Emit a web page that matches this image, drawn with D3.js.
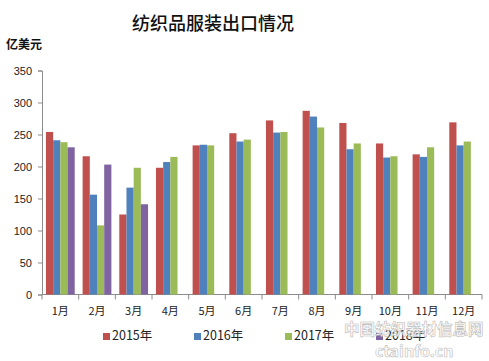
<!DOCTYPE html>
<html lang="zh">
<head>
<meta charset="UTF-8">
<title>纺织品服装出口情况</title>
<script src="https://d3js.org/d3.v7.min.js"></script>
<style>
  body { margin: 0; background: #fff; }
  svg { display: block; font-family: "Noto Sans CJK SC", "DejaVu Sans", sans-serif; }
  .axis path, .axis line { stroke: #8c8c8c; }
  .axis text { fill: #222; font-size: 11px; }
</style>
</head>
<body>
<svg id="chart" width="489" height="361"></svg>
<script>
// months and yearly export values (亿美元)
let months = ["1月","2月","3月","4月","5月","6月","7月","8月","9月","10月","11月","12月"];
let years = ["2015年","2016年","2017年","2018年"];
let v2015 = [254, 216, 125, 198, 233, 252, 272, 287, 268, 236, 219, 269];
let v2016 = [241, 156, 167, 207, 234, 239, 253, 278, 227, 214, 215, 233];
let v2017 = [238, 108, 198, 215, 233, 242, 254, 261, 236, 216, 230, 239];
let v2018 = [230, 203, 141];
let yTicks = [0, 50, 100, 150, 200, 250, 300, 350];
let colors = ["#C0504D", "#4F81BD", "#9BBB59", "#8064A2"];

let series = [v2015, v2016, v2017, v2018];
let svg = d3.select("#chart");

let x = d3.scaleBand().domain(months).range([42, 482]);
let sub = d3.scaleBand().domain(years).range([0, x.bandwidth()]).paddingOuter(0.55);
let y = d3.scaleLinear().domain([0, 350]).range([294.5, 70.5]);

// title
svg.append("text").attr("x", 213).attr("y", 30).attr("text-anchor", "middle")
  .attr("font-size", 18).attr("font-weight", 500).attr("fill", "#111").text("纺织品服装出口情况");
svg.append("text").attr("x", 6).attr("y", 49).attr("font-size", 12)
  .attr("font-weight", "bold").attr("fill", "#111").text("亿美元");

// y axis
let yAxis = svg.append("g").attr("class", "axis").attr("transform", "translate(42,0)")
  .call(d3.axisLeft(y).tickValues(yTicks).tickSize(4).tickPadding(6));
yAxis.selectAll("text").attr("fill", "#1f2a44");

// x axis, ticks on band boundaries
let xAxis = svg.append("g").attr("class", "axis").attr("transform", "translate(0," + y(0) + ")");
xAxis.append("line").attr("x1", 42).attr("x2", 482).attr("y1", 0).attr("y2", 0);
xAxis.selectAll(".tk").data(months.concat(["end"])).join("line").attr("class", "tk")
  .attr("x1", (d, i) => 42 + i * x.step()).attr("x2", (d, i) => 42 + i * x.step())
  .attr("y1", 0).attr("y2", 5);
xAxis.selectAll(".lbl").data(months).join("text").attr("class", "lbl")
  .attr("x", d => x(d) + x.bandwidth() / 2).attr("y", 20)
  .attr("text-anchor", "middle").attr("font-size", 12).text(d => d);

// bars
series.forEach((vals, s) => {
  svg.append("g").selectAll("rect").data(vals).join("rect")
    .attr("x", (d, i) => x(months[i]) + sub(years[s]))
    .attr("width", sub.bandwidth())
    .attr("y", d => y(d))
    .attr("height", d => y(0) - y(d))
    .attr("fill", colors[s]);
});

// legend
let legend = svg.append("g").selectAll("g").data(years).join("g")
  .attr("transform", (d, i) => "translate(" + (103 + i * 91) + ",339)");
legend.append("rect").attr("x", 0).attr("y", -6).attr("width", 7).attr("height", 7)
  .attr("fill", (d, i) => colors[i]);
legend.append("text").attr("x", 9).attr("y", 1).attr("font-size", 12.5)
  .attr("fill", "#222").text(d => d);

// watermark (sits over the last legend entry, as in the source image)
let wm = svg.append("g").attr("font-weight", "bold").attr("fill", "#fff")
  .attr("stroke", "#b0b0b0").attr("stroke-width", 0.6).attr("opacity", 0.85);
wm.append("text").attr("x", 344).attr("y", 335).attr("font-size", 15.5).text("中国纺织器材信息网");
wm.append("text").attr("x", 375).attr("y", 357).attr("font-size", 16).text("ctainfo.cn");
</script>
</body>
</html>
